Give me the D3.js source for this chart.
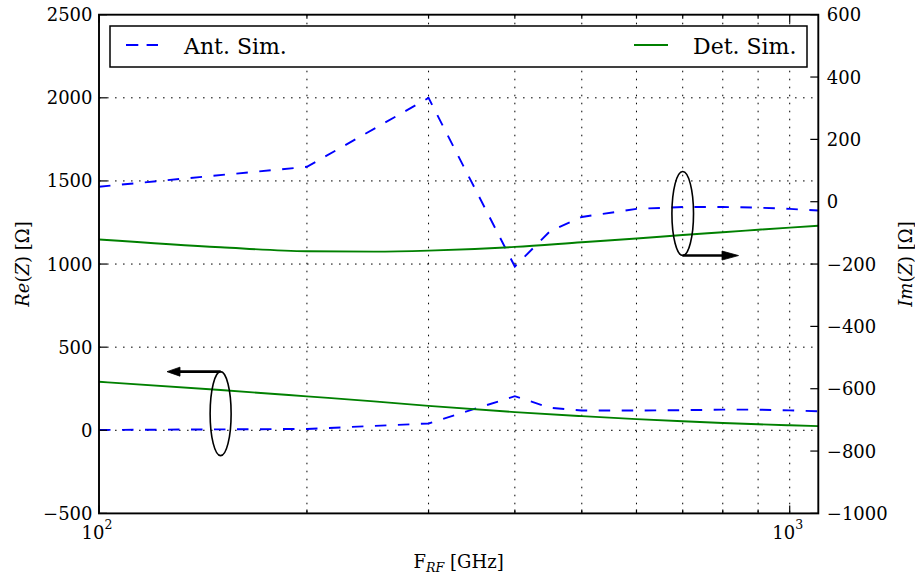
<!DOCTYPE html>
<html>
<head>
<meta charset="utf-8">
<script src="https://cdn.jsdelivr.net/npm/d3@7"></script>
<style>
  body { margin: 0; background: #fff; }
  svg text { font-family: "DejaVu Serif", serif; fill: #000; }
</style>
</head>
<body>
<svg id="chart" width="915" height="577"></svg>
<script>
// Antenna simulation (sampled frequencies, GHz)
const freqAnt = [100, 200, 300, 400, 450, 500, 600, 700, 800, 900, 1000, 1100];
const reAnt   = [2, 8, 41, 205, 135, 119, 119, 121, 124, 124, 120, 114];
const imAnt   = [48, 112, 333, -208, -94, -49, -23, -17, -17, -19, -23, -28];

// Detector simulation
const freqDet = [100, 150, 200, 250, 300, 400, 500, 600, 700, 800, 900, 1000, 1100];
const reDet   = [292, 242, 204, 174, 147, 109, 85, 67, 54, 44, 36, 30, 25];
const imDet   = [-121, -146, -159, -160, -157, -145, -130, -118, -107, -98, -90, -83, -77];

// Axis ticks
const reTicks = [-500, 0, 500, 1000, 1500, 2000, 2500];
const imTicks = [-1000, -800, -600, -400, -200, 0, 200, 400, 600];
const freqMajor = [100, 1000];
const freqMinor = [200, 300, 400, 500, 600, 700, 800, 900];
const freqMajorExp = ["2", "3"];

// Legend entries
const seriesNames = ["Ant. Sim.", "Det. Sim."];

const svg = d3.select("#chart");
const L = 99, R = 818.3, T = 14.7, B = 513.4;
const blue = "#0000ff", green = "#008000";

const x = d3.scaleLog().domain([100, 1100]).range([L, R]);
const yRe = d3.scaleLinear().domain([-500, 2500]).range([B, T]);
const yIm = d3.scaleLinear().domain([-1000, 600]).range([B, T]);

svg.append("defs").append("clipPath").attr("id", "plot")
  .append("rect").attr("x", L).attr("y", T).attr("width", R - L).attr("height", B - T);

// Dotted grid
const grid = svg.append("g").attr("stroke", "#000").attr("stroke-width", 1)
  .attr("stroke-dasharray", "1.6,6.4");
grid.selectAll("line.v").data(freqMajor.concat(freqMinor).filter(f => f > 100))
  .join("line").attr("x1", d => x(d)).attr("x2", d => x(d)).attr("y1", T).attr("y2", B);
grid.selectAll("line.h").data(reTicks.filter(v => v > -500 && v < 2500))
  .join("line").attr("class", "h").attr("x1", L).attr("x2", R)
  .attr("y1", d => yRe(d)).attr("y2", d => yRe(d));

// Curves
const plot = svg.append("g").attr("clip-path", "url(#plot)").attr("fill", "none")
  .attr("stroke-width", 1.9);
const lineAnt = (ys, yScale) => d3.line().x((d, i) => x(freqAnt[i])).y(d => yScale(d))(ys);
const lineDet = (ys, yScale) => d3.line().curve(d3.curveMonotoneX)
  .x((d, i) => x(freqDet[i])).y(d => yScale(d))(ys);

plot.append("path").attr("d", lineAnt(reAnt, yRe)).attr("stroke", blue).attr("stroke-dasharray", "11.5,11.5");
plot.append("path").attr("d", lineDet(reDet, yRe)).attr("stroke", green);
plot.append("path").attr("d", lineAnt(imAnt, yIm)).attr("stroke", blue).attr("stroke-dasharray", "11.5,11.5");
plot.append("path").attr("d", lineDet(imDet, yIm)).attr("stroke", green);

// Frame
svg.append("rect").attr("x", L).attr("y", T).attr("width", R - L).attr("height", B - T)
  .attr("fill", "none").attr("stroke", "#000").attr("stroke-width", 1.9);

// Ticks (pointing inward)
const ticks = svg.append("g").attr("stroke", "#000").attr("stroke-width", 1.2);
reTicks.forEach(v => ticks.append("line").attr("x1", L).attr("x2", L + 8).attr("y1", yRe(v)).attr("y2", yRe(v)));
imTicks.forEach(v => ticks.append("line").attr("x1", R).attr("x2", R - 8).attr("y1", yIm(v)).attr("y2", yIm(v)));
freqMajor.forEach(f => {
  ticks.append("line").attr("x1", x(f)).attr("x2", x(f)).attr("y1", B).attr("y2", B - 8);
  ticks.append("line").attr("x1", x(f)).attr("x2", x(f)).attr("y1", T).attr("y2", T + 8);
});
freqMinor.forEach(f => {
  ticks.append("line").attr("x1", x(f)).attr("x2", x(f)).attr("y1", B).attr("y2", B - 4);
  ticks.append("line").attr("x1", x(f)).attr("x2", x(f)).attr("y1", T).attr("y2", T + 4);
});

// Tick labels
const fmt = v => (v < 0 ? "\u2212" + Math.abs(v) : String(v));
svg.append("g").selectAll("text").data(reTicks).join("text")
  .attr("x", L - 6.5).attr("y", d => yRe(d)).attr("dy", "0.36em")
  .attr("text-anchor", "end").attr("font-size", 18).text(fmt);
svg.append("g").selectAll("text").data(imTicks).join("text")
  .attr("x", R + 8.5).attr("y", d => yIm(d)).attr("dy", "0.36em")
  .attr("text-anchor", "start").attr("font-size", 18).text(fmt);
freqMajor.forEach((f, i) => {
  const t = svg.append("text").attr("x", x(f) - 2).attr("y", 539.3)
    .attr("text-anchor", "middle").attr("font-size", 18);
  t.append("tspan").text("10");
  t.append("tspan").attr("dy", -10).attr("font-size", 12.5).text(freqMajorExp[i]);
});

// Axis titles
const yl = svg.append("text").attr("transform", `translate(29,${(T + B) / 2}) rotate(-90)`)
  .attr("text-anchor", "middle").attr("font-size", 18);
yl.append("tspan").attr("font-style", "italic").text("Re");
yl.append("tspan").text("(");
yl.append("tspan").attr("font-style", "italic").text("Z");
yl.append("tspan").text(") [\u03A9]");

const yr = svg.append("text").attr("transform", `translate(912,${(T + B) / 2}) rotate(-90)`)
  .attr("text-anchor", "middle").attr("font-size", 18);
yr.append("tspan").attr("font-style", "italic").text("Im");
yr.append("tspan").text("(");
yr.append("tspan").attr("font-style", "italic").text("Z");
yr.append("tspan").text(") [\u03A9]");

const xl = svg.append("text").attr("x", (L + R) / 2).attr("y", 568)
  .attr("text-anchor", "middle").attr("font-size", 18);
xl.append("tspan").text("F");
xl.append("tspan").attr("dy", 4).attr("font-size", 12.6).attr("font-style", "italic").text("RF");
xl.append("tspan").attr("dy", -4).text(" [GHz]");

// Legend
const lg = svg.append("g");
lg.append("rect").attr("x", 110).attr("y", 26).attr("width", 697).attr("height", 41)
  .attr("fill", "#fff").attr("stroke", "#000").attr("stroke-width", 1.5);
lg.append("line").attr("x1", 126).attr("x2", 158).attr("y1", 45).attr("y2", 45)
  .attr("stroke", blue).attr("stroke-width", 1.9).attr("stroke-dasharray", "12.3,8.3");
lg.append("text").attr("x", 184).attr("y", 53.5).attr("font-size", 22).text(seriesNames[0]);
lg.append("line").attr("x1", 634).attr("x2", 668).attr("y1", 45).attr("y2", 45)
  .attr("stroke", green).attr("stroke-width", 1.9);
lg.append("text").attr("x", 693).attr("y", 53.5).attr("font-size", 22).text(seriesNames[1]);

// Axis markers: ellipse around each curve pair, arrow pointing to its axis
const ann = svg.append("g").attr("stroke", "#000");
const cxL = x(150), cyL = yRe(100);
ann.append("ellipse").attr("cx", cxL).attr("cy", cyL).attr("rx", 10.5).attr("ry", 42)
  .attr("fill", "none").attr("stroke-width", 1.6);
ann.append("line").attr("x1", cxL).attr("x2", 178).attr("y1", cyL - 42).attr("y2", cyL - 42)
  .attr("stroke-width", 2.6);
ann.append("path").attr("d", `M167,${cyL - 42} L180,${cyL - 46.5} L180,${cyL - 37.5} Z`)
  .attr("fill", "#000").attr("stroke-width", 0.8);

const cxR = x(700), cyR = yIm(-38);
ann.append("ellipse").attr("cx", cxR).attr("cy", cyR).attr("rx", 10.8).attr("ry", 42)
  .attr("fill", "none").attr("stroke-width", 1.6);
ann.append("line").attr("x1", cxR).attr("x2", 724).attr("y1", cyR + 42).attr("y2", cyR + 42)
  .attr("stroke-width", 2.6);
ann.append("path").attr("d", `M738.5,${cyR + 42} L722,${cyR + 37.5} L722,${cyR + 46.5} Z`)
  .attr("fill", "#000").attr("stroke-width", 0.8);
</script>
</body>
</html>
